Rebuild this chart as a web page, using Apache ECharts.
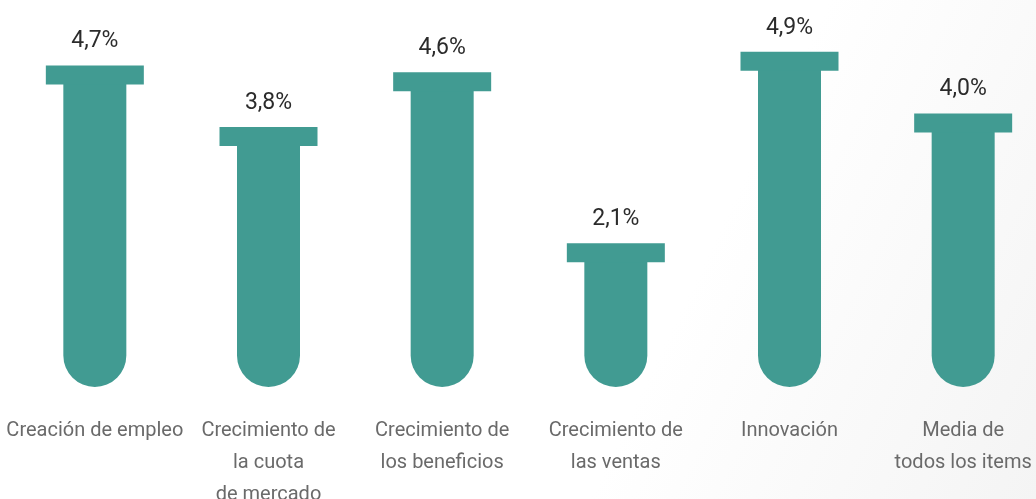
<!DOCTYPE html>
<html>
<head>
<meta charset="utf-8">
<script src="https://cdn.jsdelivr.net/npm/echarts@6/dist/echarts.min.js"></script>
<style>
  html, body { margin: 0; padding: 0; background: #fff; }
  #chart { width: 1036px; height: 499px; }
</style>
</head>
<body>
<div id="chart"></div>
<script>
// categorias
var categories = [
  'Creación de empleo',
  'Crecimiento de\nla cuota\nde mercado',
  'Crecimiento de\nlos beneficios',
  'Crecimiento de\nlas ventas',
  'Innovación',
  'Media de\ntodos los items'
]
// valores (%)
var values = [4.7, 3.8, 4.6, 2.1, 4.9, 4.0]

var teal = '#419b92'

function fmt(v) {
  return v.toFixed(1).replace('.', ',') + '%'
}

var chart = echarts.init(document.getElementById('chart'))
chart.setOption({
  backgroundColor: {
    type: 'linear',
    x: 0, y: 0, x2: 1, y2: 1,
    colorStops: [
      { offset: 0, color: '#ffffff' },
      { offset: 0.65, color: '#ffffff' },
      { offset: 1, color: '#f4f4f4' }
    ]
  },
  animation: false,
  grid: { left: 8, right: -14, top: 45, bottom: 112, outerBoundsMode: 'none', containLabel: false },
  xAxis: {
    type: 'category',
    data: categories,
    axisLine: { show: false },
    axisTick: { show: false },
    axisLabel: {
      interval: 0,
      margin: 28,
      color: '#6a6a6a',
      fontSize: 20,
      lineHeight: 32,
      fontFamily: 'Roboto, Liberation Sans, sans-serif',
      verticalAlign: 'top'
    }
  },
  yAxis: {
    type: 'value',
    min: 0,
    max: 5,
    show: false
  },
  series: [
    {
      type: 'custom',
      data: values,
      renderItem: function (params, api) {
        var top = api.coord([api.value(0), api.value(1)])
        var base = api.coord([api.value(0), 0])
        var x = top[0]
        var capW = 98, capH = 19, bodyW = 63
        var r = bodyW / 2
        return {
          type: 'group',
          children: [
            {
              type: 'rect',
              shape: { x: x - bodyW / 2, y: top[1] + capH - 1, width: bodyW, height: base[1] - top[1] - capH + 1, r: [0, 0, r, r] },
              style: { fill: teal }
            },
            {
              type: 'rect',
              shape: { x: x - capW / 2, y: top[1], width: capW, height: capH },
              style: { fill: teal }
            },
            {
              type: 'text',
              x: x,
              y: top[1] - 24,
              style: {
                text: fmt(api.value(1)),
                fill: '#2b2b2b',
                fontSize: 23,
                fontFamily: 'Roboto, Liberation Sans, sans-serif',
                align: 'center',
                verticalAlign: 'middle'
              }
            }
          ]
        }
      },
      encode: { x: 0, y: 1 }
    }
  ]
})
</script>
</body>
</html>
